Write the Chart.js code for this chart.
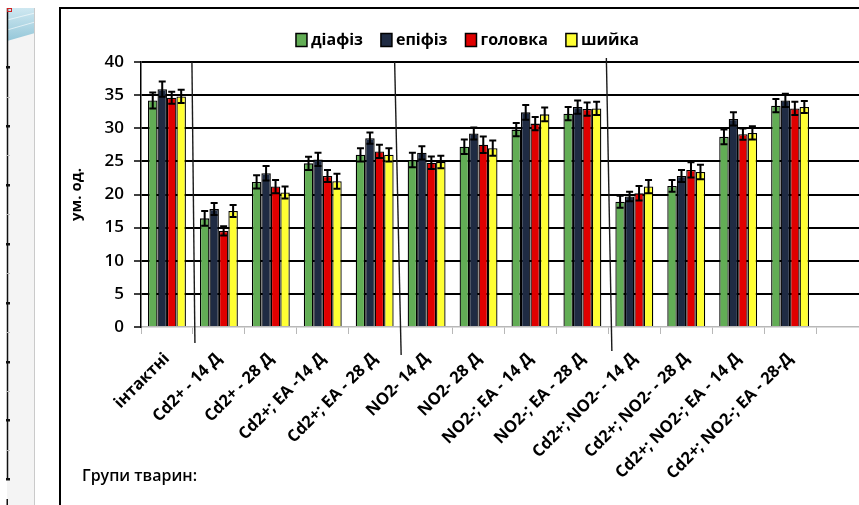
<!DOCTYPE html>
<html>
<head>
<meta charset="utf-8">
<script src="https://cdn.jsdelivr.net/npm/chart.js@4/dist/chart.umd.min.js"></script>
<style>
  html, body { margin: 0; padding: 0; background: #fff; overflow: hidden; }
  #wrap { position: relative; width: 859px; height: 505px; overflow: hidden; }
  canvas { display: block; }
</style>
</head>
<body>
<div id="wrap"><canvas id="c" width="880" height="505"></canvas></div>
<script>
// Animal groups (the trailing empty slot keeps the plot running past the last group)
const categories = [
  'інтактні', 'Cd2+ - 14 Д', 'Cd2+ - 28 Д', 'Cd2+; EA -14 Д', 'Cd2+; EA - 28 Д',
  'NO2- 14 Д', 'NO2- 28 Д', 'NO2-; EA - 14 Д', 'NO2-; EA - 28 Д',
  'Cd2+; NO2- - 14 Д', 'Cd2+; NO2- - 28 Д', 'Cd2+; NO2-; EA - 14 Д', 'Cd2+; NO2-; EA - 28-Д', ''
];

// Bone regions
const seriesNames = ['діафіз', 'епіфіз', 'головка', 'шийка'];

// Mean values, ум. од.
const diaphysis = [34.2, 16.4, 21.9, 24.7, 26.0, 25.2, 27.2, 29.8, 32.2, 18.9, 21.3, 28.7, 33.4, null];
const epiphysis = [35.9, 17.8, 23.2, 25.3, 28.5, 26.3, 29.2, 32.4, 33.2, 19.7, 22.8, 31.4, 34.2, null];
const head      = [34.6, 14.5, 21.2, 22.8, 26.5, 24.8, 27.5, 30.7, 32.9, 20.2, 23.7, 29.1, 33.0, null];
const neck      = [34.8, 17.5, 20.3, 22.0, 26.0, 24.9, 27.0, 32.1, 33.0, 21.2, 23.4, 29.3, 33.2, null];

// Standard errors
const diaphysisErr = [1.2, 1.1, 1.0, 1.0, 1.0, 1.1, 1.1, 1.0, 1.0, 0.9, 0.9, 1.1, 1.0, null];
const epiphysisErr = [1.15, 0.9, 1.1, 1.0, 0.85, 1.0, 0.9, 1.1, 1.0, 0.7, 0.9, 1.0, 1.0, null];
const headErr      = [0.9, 0.7, 1.0, 0.9, 1.0, 0.95, 1.25, 1.0, 1.0, 1.1, 1.15, 0.85, 1.0, null];
const neckErr      = [1.0, 0.9, 0.9, 1.15, 1.0, 0.95, 1.15, 1.05, 1.0, 1.0, 1.1, 1.0, 0.9, null];

// Y axis ticks
const yTicks = [0, 5, 10, 15, 20, 25, 30, 35, 40];

// First group index of each experimental block (separator lines go before them)
const blockStarts = [1, 5, 9];

const colors = ['#62ad55', '#1f2b43', '#e00000', '#ffff33'];
const FONT = '"Open Sans", "Noto Sans", sans-serif';

const values = [diaphysis, epiphysis, head, neck];
const errors = [diaphysisErr, epiphysisErr, headErr, neckErr];

// Page frame and side strip behind the chart
const backdrop = {
  id: 'backdrop',
  beforeDraw(chart) {
    const ctx = chart.ctx;
    ctx.save();
    ctx.fillStyle = '#fff';
    ctx.fillRect(0, 0, chart.width, chart.height);

    // side strip
    ctx.fillStyle = '#f4f4f4';
    ctx.fillRect(7, 8, 27, chart.height - 8);
    const g = ctx.createLinearGradient(0, 8, 0, 42);
    g.addColorStop(0, '#cfe8f1');
    g.addColorStop(1, '#93c6d8');
    ctx.fillStyle = g;
    ctx.beginPath();
    ctx.moveTo(7, 8); ctx.lineTo(35, 8); ctx.lineTo(35, 33); ctx.lineTo(7, 41);
    ctx.closePath(); ctx.fill();
    ctx.strokeStyle = 'rgba(255,255,255,0.6)';
    ctx.lineWidth = 1;
    ctx.beginPath(); ctx.moveTo(7, 20); ctx.lineTo(35, 13); ctx.stroke();
    ctx.beginPath(); ctx.moveTo(7, 30); ctx.lineTo(35, 22); ctx.stroke();

    ctx.strokeStyle = '#cacaca';
    ctx.beginPath(); ctx.moveTo(34.5, 8); ctx.lineTo(34.5, chart.height); ctx.stroke();

    ctx.strokeStyle = '#111';
    ctx.lineWidth = 1.5;
    ctx.beginPath(); ctx.moveTo(7.5, 8); ctx.lineTo(7.5, 480); ctx.stroke();
    for (let k = 0; k < 8; k++) {
      const y = 67 + k * 58.9;
      ctx.fillStyle = '#111';
      ctx.fillRect(6, Math.round(y) - 1, 4, 2.5);
      if (k < 7) {
        ctx.fillStyle = '#bbb';
        ctx.fillRect(7, Math.round(y + 29.5), 3, 1);
      }
    }
    ctx.fillStyle = '#111';
    ctx.fillRect(6.5, 499, 1.5, 6);
    ctx.strokeStyle = '#d02020';
    ctx.lineWidth = 1;
    ctx.strokeRect(7.5, 8.5, 4, 3);

    // frame
    ctx.strokeStyle = '#000';
    ctx.lineWidth = 2;
    ctx.beginPath();
    ctx.moveTo(60, chart.height);
    ctx.lineTo(60, 8);
    ctx.lineTo(chart.width, 8);
    ctx.stroke();
    ctx.restore();
  }
};

// Error bars drawn at each bar's centre through the value scale
const errorBars = {
  id: 'errorBars',
  afterDatasetsDraw(chart) {
    const ctx = chart.ctx;
    const y = chart.scales.y;
    ctx.save();
    ctx.strokeStyle = '#000';
    ctx.lineWidth = 2;
    chart.data.datasets.forEach((ds, di) => {
      const meta = chart.getDatasetMeta(di);
      meta.data.forEach((bar, i) => {
        const v = ds.data[i];
        const e = errors[di][i];
        if (v == null || e == null) return;
        const x = bar.x;
        const yt = y.getPixelForValue(v + e);
        const yb = y.getPixelForValue(v - e);
        ctx.beginPath();
        ctx.moveTo(x, yt); ctx.lineTo(x, yb);
        ctx.moveTo(x - 3.5, yt); ctx.lineTo(x + 3.5, yt);
        ctx.moveTo(x - 3.5, yb); ctx.lineTo(x + 3.5, yb);
        ctx.stroke();
      });
    });
    ctx.restore();
  }
};

// Hand-ruled separators between experimental blocks
const separators = {
  id: 'separators',
  afterDatasetsDraw(chart) {
    const ctx = chart.ctx;
    const x = chart.scales.x;
    const y = chart.scales.y;
    const tweak = [
      { dt: -1, db: 2, top: 0, ext: 16 },
      { dt: -6, db: 0.5, top: 0, ext: 28 },
      { dt: -2, db: 3.5, top: -4, ext: 24 }
    ];
    ctx.save();
    ctx.strokeStyle = '#1a1a1a';
    ctx.lineWidth = 1.4;
    blockStarts.forEach((idx, k) => {
      const bx = (x.getPixelForValue(idx - 1) + x.getPixelForValue(idx)) / 2;
      const t = tweak[k];
      ctx.beginPath();
      ctx.moveTo(bx + t.dt, y.getPixelForValue(40) + t.top);
      ctx.lineTo(bx + t.db, y.getPixelForValue(0) + t.ext);
      ctx.stroke();
    });
    ctx.restore();
  }
};

// Legend row and the group caption
const captions = {
  id: 'captions',
  afterDraw(chart) {
    const ctx = chart.ctx;
    ctx.save();
    ctx.font = 'bold 16px ' + FONT;
    ctx.textBaseline = 'middle';
    const bw = 11, bh = 13, gapText = 4, gapItem = 18;
    const widths = seriesNames.map(n => ctx.measureText(n).width);
    let total = 0;
    widths.forEach((w, i) => { total += bw + gapText + w + (i < widths.length - 1 ? gapItem : 0); });
    let cx = 467.5 - total / 2;
    const cy = 40;
    seriesNames.forEach((n, i) => {
      ctx.fillStyle = colors[i];
      ctx.fillRect(cx, cy - bh / 2, bw, bh);
      ctx.strokeStyle = '#000';
      ctx.lineWidth = 1.5;
      ctx.strokeRect(cx, cy - bh / 2, bw, bh);
      ctx.fillStyle = '#000';
      ctx.textAlign = 'left';
      ctx.fillText(n, cx + bw + gapText, cy);
      cx += bw + gapText + widths[i] + gapItem;
    });

    ctx.font = '600 16px ' + FONT;
    ctx.fillText('Групи тварин:', 82, 476);
    ctx.restore();
  }
};

new Chart(document.getElementById('c'), {
  type: 'bar',
  data: {
    labels: categories,
    datasets: seriesNames.map((name, i) => ({
      label: name,
      data: values[i],
      backgroundColor: colors[i],
      borderColor: '#000',
      borderWidth: 1.3,
      categoryPercentage: 0.73,
      barPercentage: 1.0
    }))
  },
  options: {
    responsive: false,
    devicePixelRatio: 1,
    animation: false,
    layout: { padding: { left: 62, top: 62, right: 12, bottom: 0 } },
    plugins: {
      legend: { display: false },
      tooltip: { enabled: false }
    },
    scales: {
      x: {
        offset: true,
        grid: {
          offset: true,
          drawOnChartArea: false,
          drawTicks: true,
          tickLength: 7,
          color: '#b8b8b8',
          lineWidth: 1
        },
        border: { display: true, color: '#b8b8b8', width: 1.5 },
        ticks: {
          autoSkip: false,
          minRotation: 45,
          maxRotation: 45,
          padding: 15,
          color: '#000',
          font: { family: FONT, size: 16.5, weight: 'bold' }
        },
        afterFit(scale) { scale.height = 178; }
      },
      y: {
        min: 0,
        max: 40,
        afterBuildTicks(scale) { scale.ticks = yTicks.map(v => ({ value: v })); },
        grid: {
          color: ctx => (ctx.tick && ctx.tick.value === 0 ? 'rgba(0,0,0,0)' : '#000'),
          lineWidth: 2,
          tickColor: '#000',
          tickLength: 7,
          tickWidth: 1.5
        },
        border: { display: true, color: '#000', width: 1.5 },
        ticks: {
          padding: 10,
          color: '#000',
          font: { family: FONT, size: 17, weight: '600' }
        },
        title: {
          display: true,
          text: 'ум. од.',
          color: '#000',
          padding: { top: 6, bottom: 4 },
          font: { family: FONT, size: 15, weight: 'bold' }
        },
        afterFit(scale) { scale.width = 79; }
      }
    }
  },
  plugins: [backdrop, errorBars, separators, captions]
});
</script>
</body>
</html>
